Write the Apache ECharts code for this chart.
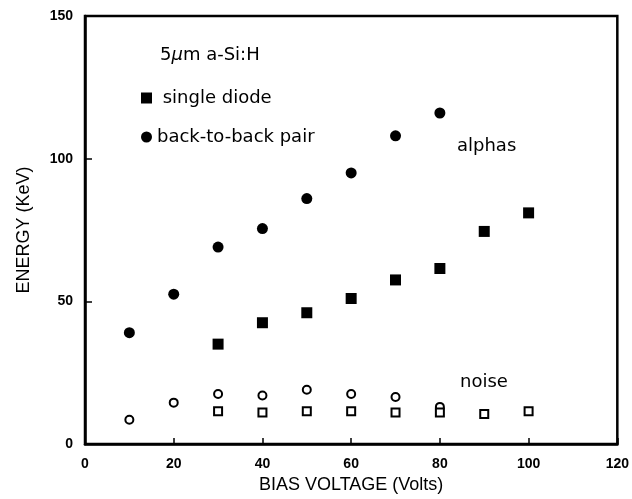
<!DOCTYPE html>
<html>
<head>
<meta charset="utf-8">
<script src="https://cdn.jsdelivr.net/npm/echarts@6/dist/echarts.min.js"></script>
<style>
  html, body { margin: 0; padding: 0; background: #fff; }
  #chart { width: 632px; height: 499px; }
</style>
</head>
<body>
<div id="chart"></div>
<script>
// bias voltage (Volts) vs energy (KeV)
var pairAlphas = [[10, 39], [20, 52.5], [30, 69], [40, 75.5], [50, 86], [60, 95], [70, 108], [80, 116]];
var singleAlphas = [[30, 35], [40, 42.5], [50, 46], [60, 51], [70, 57.5], [80, 61.5], [90, 74.5], [100, 81]];
var pairNoise = [[10, 8.5], [20, 14.5], [30, 17.5], [40, 17], [50, 19], [60, 17.5], [70, 16.5], [80, 13]];
var singleNoise = [[30, 11.5], [40, 11], [50, 11.5], [60, 11.5], [70, 11], [80, 11], [90, 10.5], [100, 11.5]];
var xTicks = [0, 20, 40, 60, 80, 100, 120];
var yTicks = [0, 50, 100, 150];

var font = 'Liberation Sans';
var noteFont = 'DejaVu Sans';
var chart = echarts.init(document.getElementById('chart'));

var option = {
  backgroundColor: '#fff',
  animation: false,
  textStyle: { fontFamily: font, color: '#000' },
  grid: {
    left: 85, right: 14, top: 16, bottom: 53,
    show: true, borderColor: '#000', borderWidth: 2.5
  },
  legend: {
    data: ['single diode', 'back-to-back pair'],
    orient: 'vertical',
    left: 136, top: 83,
    itemWidth: 11, itemHeight: 11, itemGap: 19,
    textStyle: { fontFamily: noteFont, fontSize: 18, color: '#000', lineHeight: 20 },
    formatter: function (name) {
      return name === 'single diode' ? ' ' + name : name;
    }
  },
  xAxis: {
    type: 'value',
    min: xTicks[0], max: xTicks[xTicks.length - 1], interval: 20,
    name: 'BIAS VOLTAGE (Volts)',
    nameLocation: 'middle', nameGap: 32,
    nameTextStyle: { fontFamily: font, fontSize: 18, color: '#000' },
    axisLine: { lineStyle: { color: '#000', width: 2.5 } },
    axisTick: { inside: true, length: 6, lineStyle: { color: '#000', width: 1.5 } },
    axisLabel: { margin: 13, fontFamily: font, fontSize: 14, fontWeight: 'bold', color: '#000' },
    splitLine: { show: false }
  },
  yAxis: {
    type: 'value',
    min: yTicks[0], max: yTicks[yTicks.length - 1], interval: 50,
    name: 'ENERGY (KeV)',
    nameLocation: 'middle', nameGap: 52,
    nameTextStyle: { fontFamily: font, fontSize: 18, color: '#000' },
    axisLine: { lineStyle: { color: '#000', width: 2.5 } },
    axisTick: { inside: true, length: 7, lineStyle: { color: '#000', width: 1.5 } },
    axisLabel: { margin: 12, fontFamily: font, fontSize: 14, fontWeight: 'bold', color: '#000' },
    splitLine: { show: false }
  },
  graphic: [
    {
      type: 'text', left: 160, top: 46,
      style: {
        text: '5{i|μ}m a-Si:H',
        font: '18px "DejaVu Sans"',
        fill: '#000',
        rich: { i: { fontStyle: 'italic', fontSize: 18, fontFamily: noteFont } }
      }
    },
    { type: 'text', left: 457, top: 137, style: { text: 'alphas', font: '18px "DejaVu Sans"', fill: '#000' } },
    { type: 'text', left: 460, top: 373, style: { text: 'noise', font: '18px "DejaVu Sans"', fill: '#000' } }
  ],
  series: [
    {
      name: 'single diode', type: 'scatter', data: singleAlphas,
      symbol: 'rect', symbolSize: 11,
      itemStyle: { color: '#000', opacity: 1 }
    },
    {
      name: 'back-to-back pair', type: 'scatter', data: pairAlphas,
      symbol: 'circle', symbolSize: 11,
      itemStyle: { color: '#000', opacity: 1 }
    },
    {
      name: 'noise pair', type: 'scatter', data: pairNoise,
      symbol: 'circle', symbolSize: 8,
      itemStyle: { color: '#fff', borderColor: '#000', borderWidth: 2, opacity: 1 }
    },
    {
      name: 'noise single', type: 'scatter', data: singleNoise,
      symbol: 'rect', symbolSize: 8,
      itemStyle: { color: '#fff', borderColor: '#000', borderWidth: 2, opacity: 1 }
    }
  ]
};

chart.setOption(option);
</script>
</body>
</html>
